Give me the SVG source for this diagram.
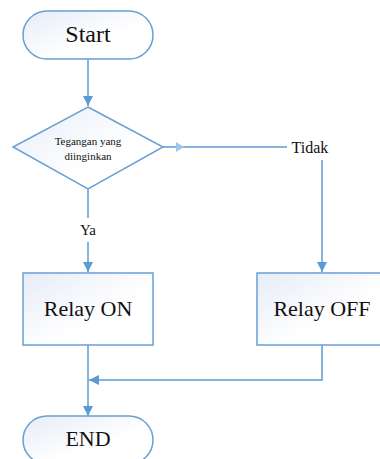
<svg xmlns="http://www.w3.org/2000/svg" width="380" height="459" viewBox="0 0 380 459">
<defs>
<linearGradient id="g" x1="0" y1="0" x2="1" y2="1">
<stop offset="0" stop-color="#e6ecf7"/>
<stop offset="0.6" stop-color="#ffffff"/>
<stop offset="1" stop-color="#ffffff"/>
</linearGradient>
<marker id="ah" viewBox="0 0 10 10" refX="10" refY="5" markerWidth="10" markerHeight="10" markerUnits="userSpaceOnUse" orient="auto">
<path d="M0,0 L10,5 L0,10 Z" fill="#5b9bd5"/>
</marker>
</defs>
<style>
.node{fill:url(#g);stroke:#6a9fd4;stroke-width:1.5}
.c{fill:none;stroke:#5b9bd5;stroke-width:1.5}
.t{font-family:'Liberation Serif','Times New Roman',serif;fill:#111;text-anchor:middle;dominant-baseline:central}
</style>
<g id="connectors">
<path class="c" d="M88,59 V106" marker-end="url(#ah)"/>
<path class="c" d="M163,147 H287"/>
<path d="M176,142 L184,147 L176,152 Z" fill="#9cc8ec"/>
<path class="c" d="M322,160 V272" marker-end="url(#ah)"/>
<path class="c" d="M88,189 V218"/>
<path class="c" d="M88,242 V272" marker-end="url(#ah)"/>
<path class="c" d="M88,345 V416" marker-end="url(#ah)"/>
<path class="c" d="M322,345 V380 H89" marker-end="url(#ah)"/>
</g>
<g id="start">
<rect class="node" x="23" y="11" width="130" height="48" rx="24"/>
<text class="t" x="88" y="34" font-size="24">Start</text>
</g>
<g id="decision">
<polygon class="node" points="88,107 163,147 88,189 13,147"/>
<text class="t" x="88" y="141" font-size="11">Tegangan yang</text>
<text class="t" x="88" y="156" font-size="11">diinginkan</text>
</g>
<g id="label-tidak"><text class="t" x="310" y="147" font-size="16">Tidak</text></g>
<g id="label-ya"><text class="t" x="88" y="230" font-size="15">Ya</text></g>
<g id="relay-on">
<rect class="node" x="23" y="273" width="130" height="72"/>
<text class="t" x="88" y="308" font-size="22">Relay ON</text>
</g>
<g id="relay-off">
<rect class="node" x="257" y="273" width="130" height="72"/>
<text class="t" x="322" y="308" font-size="22">Relay OFF</text>
</g>
<g id="end">
<rect class="node" x="23" y="416" width="130" height="48" rx="24"/>
<text class="t" x="88" y="438" font-size="22">END</text>
</g>
</svg>
